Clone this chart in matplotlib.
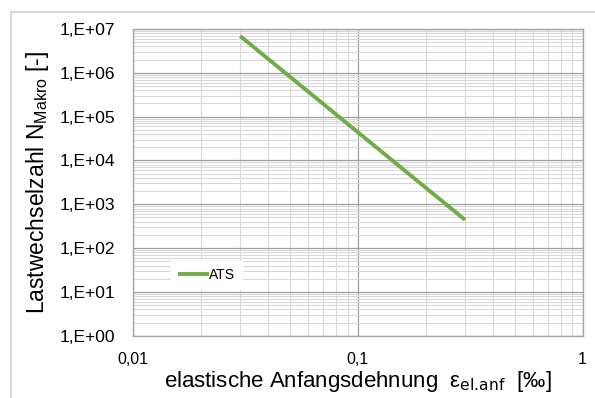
import numpy as np
import matplotlib.pyplot as plt
from matplotlib.ticker import LogLocator, FuncFormatter
from matplotlib.patches import Rectangle

plt.rcParams['font.family'] = ['Liberation Sans', 'DejaVu Sans']

# ATS fatigue line (end points)
eps_ats = [0.03, 0.3]
n_ats = [6.9e6, 440]
x_ticks = [0.01, 0.1, 1]
x_ticklabels = ['0,01', '0,1', '1']
y_ticks = [1e0, 1e1, 1e2, 1e3, 1e4, 1e5, 1e6, 1e7]
y_ticklabels = ['1,E+00', '1,E+01', '1,E+02', '1,E+03', '1,E+04', '1,E+05', '1,E+06', '1,E+07']

fig = plt.figure(figsize=(5.95, 3.98), dpi=100)
ax = fig.add_axes([0.2235, 0.1565, 0.7558, 0.7705])

# outer chart frame
fig.patches.append(Rectangle((0.0185, -0.2), 1.2, 1.17, transform=fig.transFigure,
                             fill=False, edgecolor='#D9D9D9', lw=1.5))

ax.plot(eps_ats, n_ats, color='#70AD47', lw=2.8, label='ATS', solid_capstyle='butt', zorder=3)

ax.set_xscale('log')
ax.set_yscale('log')
ax.set_xlim(0.01, 1)
ax.set_ylim(1, 1e7)

ax.set_xticks(x_ticks)
ax.set_xticklabels(x_ticklabels)
ax.set_yticks(y_ticks)
ax.set_yticklabels(y_ticklabels)
ax.xaxis.set_minor_locator(LogLocator(base=10, subs=np.arange(2, 10)))
ax.yaxis.set_minor_locator(LogLocator(base=10, subs=np.arange(2, 10)))
ax.xaxis.set_minor_formatter(FuncFormatter(lambda v, p: ''))
ax.yaxis.set_minor_formatter(FuncFormatter(lambda v, p: ''))

ax.tick_params(which='both', length=0, colors='#000000')
ax.tick_params(axis='x', pad=12, labelsize=11.5)
ax.tick_params(axis='y', pad=13, labelsize=12.5)

ax.grid(True, which='major', color='#A0A0A0', lw=0.9)
ax.grid(True, which='minor', color='#D9D9D9', lw=0.8)
ax.set_axisbelow(True)
for s in ax.spines.values():
    s.set_color('#A6A6A6')
    s.set_linewidth(1.0)

ax.set_xlabel(r'elastische Anfangsdehnung  $\mathregular{\varepsilon_{\text{el.anf}}}$  [‰]', fontsize=16, labelpad=1)
ax.set_ylabel(r'Lastwechselzahl $\mathregular{N_{Makro}}$ [-]', fontsize=16.5, labelpad=6)

leg = ax.legend(loc='center', bbox_to_anchor=(0.163, 0.198), fontsize=10, frameon=True,
                handlelength=2.2, handletextpad=0.0, borderpad=0.5, fancybox=False)
leg.get_frame().set_edgecolor('white')
leg.get_frame().set_facecolor('white')
leg.get_frame().set_alpha(1)

fig.savefig('out.png', dpi=100)
